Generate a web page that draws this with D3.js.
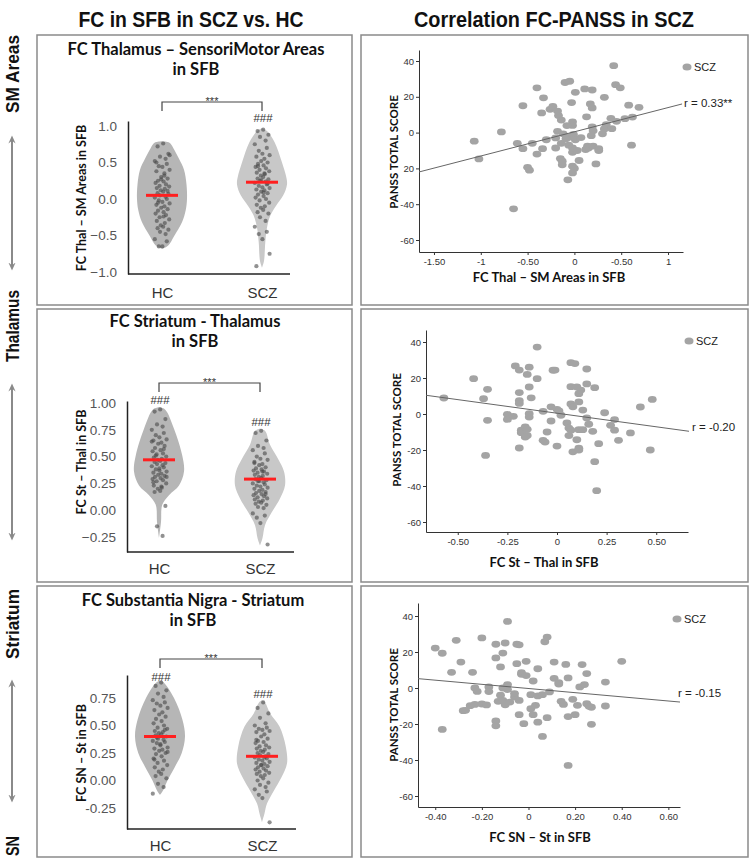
<!DOCTYPE html>
<html>
<head>
<meta charset="utf-8">
<script src="https://cdn.jsdelivr.net/npm/d3@7"></script>
<style>
  body { margin: 0; background: #fff; }
</style>
</head>
<body>
<div id="chart"></div>
<script>
// ---- shared ----
const groups = ["HC", "SCZ"];
const jitter = [0.15, -0.55, 0.8, -0.25, 0.45, -0.9, 0.6, -0.4, 0.05, 0.95, -0.7, 0.3, -0.1, 0.7, -0.5, 0.2, -0.8, 0.5, -0.3, 0.9, -0.65, 0.35, -0.15];
const panssTicks = [40, 20, 0, -20, -40, -60];
const rowLabels = ["SM Areas", "Thalamus", "Striatum", "SN"];

// ---- row 1: Thalamus - SensoriMotor areas ----
const thalSmHC = [0.76, 0.72, 0.62, 0.58, 0.55, 0.52, 0.48, 0.45, 0.44, 0.40, 0.38, 0.35, 0.30, 0.28, 0.25, 0.24, 0.22, 0.20, 0.18, 0.17, 0.15, 0.14, 0.12, 0.10, 0.08, 0.07, 0.05, 0.03, 0.02, 0.0, -0.02, -0.04, -0.06, -0.08, -0.10, -0.12, -0.14, -0.16, -0.18, -0.20, -0.22, -0.25, -0.28, -0.30, -0.33, -0.36, -0.38, -0.40, -0.42, -0.45, -0.48, -0.55, -0.58, -0.65, -0.65, 0.60, 0.50, 0.32, 0.27, 0.11, -0.05, -0.24];
const thalSmSCZ = [0.95, 0.93, 0.88, 0.85, 0.80, 0.75, 0.70, 0.66, 0.62, 0.60, 0.58, 0.55, 0.52, 0.50, 0.48, 0.46, 0.44, 0.42, 0.40, 0.38, 0.36, 0.34, 0.32, 0.30, 0.28, 0.27, 0.25, 0.24, 0.22, 0.20, 0.18, 0.16, 0.15, 0.13, 0.12, 0.10, 0.08, 0.06, 0.04, 0.02, 0.0, -0.02, -0.05, -0.08, -0.10, -0.12, -0.15, -0.18, -0.20, -0.25, -0.30, -0.38, -0.45, -0.48, -0.55, -0.75, -0.92, 0.35, 0.26, 0.21, 0.45, 0.09];
const thalSmHCShape = [[0.79, 0], [0.77, 0.3], [0.7, 0.45], [0.55, 0.68], [0.4, 0.88], [0.2, 0.98], [0.0, 1.0], [-0.15, 0.95], [-0.32, 0.8], [-0.5, 0.5], [-0.64, 0.24], [-0.68, 0]];
const thalSmSCZShape = [[0.97, 0], [0.93, 0.2], [0.78, 0.5], [0.5, 0.8], [0.3, 0.97], [0.2, 1.0], [0.05, 0.85], [-0.1, 0.55], [-0.23, 0.33], [-0.41, 0.19], [-0.6, 0.13], [-0.85, 0.08], [-0.94, 0]];
const thalSmMeans = [0.05, 0.23];
const thalSmTicks = [1, 0.5, 0, -0.5, -1];
const thalSmTickLabels = ["1.0", "0.5", "0.0", "\u22120.5", "\u22121.0"];
const thalSmPanss = [[-1.07, -4.8], [-1.02, -14.7], [-0.78, 0.4], [-0.55, 15], [-0.61, -6], [-0.55, -9], [-0.50, -19.4], [-0.48, -21], [-0.45, -6], [-0.40, 25], [-0.40, -12], [-0.35, 11], [-0.34, -9], [-0.30, -4], [-0.33, 19.4], [-0.26, 13], [-0.23, 14.7], [-0.18, 12], [-0.17, 9.5], [-0.14, 7], [-0.20, -3], [-0.18, 0.7], [-0.20, -8.6], [-0.15, -14.5], [-0.13, -18], [-0.12, -0.7], [-0.14, -6], [-0.13, -16], [-0.10, 28], [-0.05, 28.7], [-0.03, 16.8], [-0.02, 6], [-0.02, 4], [-0.08, 3.9], [-0.06, -2.6], [-0.09, -3.5], [-0.06, -7], [-0.02, -8.6], [-0.02, -11], [-0.01, -9.9], [-0.02, -18.8], [0, -20], [-0.02, -22.5], [-0.07, -26.4], [-0.01, -1], [0.01, 22.5], [0.01, -4], [0.03, -10], [0.05, -15.6], [0.07, -2.8], [0.11, 24.4], [0.13, 8.8], [0.14, -7.6], [0.12, -9.5], [0.15, -8.6], [0.17, 16], [0.19, 13.8], [0.19, 23.8], [0.19, 3.2], [0.20, 1], [0.18, -1.7], [0.20, -7.5], [0.23, -17.5], [0.26, -9], [0.26, -10], [0.30, -0.7], [0.32, 2], [0.34, 4.5], [0.32, 19.7], [0.39, 8], [0.40, 2.2], [0.42, 37.4], [0.44, 26.8], [0.49, 25], [0.45, 6.3], [0.54, 7.8], [0.58, 15.3], [0.61, -7], [0.62, 8.7], [0.69, 14.1], [-0.65, -42.6]];
const thalSmFit = [[-1.66, -22], [1.15, 16]];
const thalSmXTicks = [-1.5, -1, -0.5, 0, 0.5, 1];
const thalSmXTickLabels = ["-1.50", "-1", "-0.50", "0", "-0.50", "1"];
const thalSmYTickLabels = ["40", "20", "0", "20", "-40", "-60"];

// ---- row 2: Striatum - Thalamus ----
const stThalHC = [0.94, 0.92, 0.85, 0.80, 0.78, 0.75, 0.72, 0.70, 0.68, 0.66, 0.65, 0.63, 0.62, 0.60, 0.58, 0.56, 0.55, 0.53, 0.52, 0.50, 0.49, 0.48, 0.47, 0.46, 0.45, 0.44, 0.43, 0.42, 0.41, 0.40, 0.38, 0.37, 0.36, 0.35, 0.34, 0.33, 0.32, 0.31, 0.30, 0.29, 0.28, 0.27, 0.25, 0.23, 0.21, 0.20, 0.18, 0.17, 0.04, -0.15, -0.24, 0.64, 0.57, 0.51, 0.39, 0.31, 0.26, 0.22];
const stThalSCZ = [0.74, 0.72, 0.65, 0.60, 0.58, 0.56, 0.53, 0.50, 0.48, 0.47, 0.45, 0.43, 0.42, 0.40, 0.39, 0.38, 0.37, 0.36, 0.35, 0.34, 0.33, 0.32, 0.31, 0.30, 0.29, 0.28, 0.27, 0.26, 0.25, 0.24, 0.23, 0.22, 0.21, 0.20, 0.19, 0.18, 0.17, 0.16, 0.15, 0.14, 0.13, 0.12, 0.11, 0.10, 0.09, 0.08, 0.07, 0.06, 0.05, 0.03, 0.02, -0.03, -0.05, -0.07, -0.12, -0.32, 0.44, 0.36, 0.27, 0.15];
const stThalHCShape = [[0.96, 0], [0.94, 0.24], [0.76, 0.6], [0.51, 0.93], [0.36, 1.0], [0.23, 0.8], [0.14, 0.4], [0.05, 0.13], [-0.11, 0.08], [-0.26, 0]];
const stThalSCZShape = [[0.76, 0], [0.74, 0.2], [0.61, 0.4], [0.48, 0.72], [0.36, 0.96], [0.23, 1.0], [0.11, 0.8], [-0.02, 0.47], [-0.14, 0.2], [-0.26, 0.1], [-0.33, 0]];
const stThalMeans = [0.47, 0.29];
const stThalTicks = [1, 0.75, 0.5, 0.25, 0, -0.25];
const stThalTickLabels = ["1.00", "0.75", "0.50", "0.25", "0.00", "\u22120.25"];
const stThalPanss = [[-0.57, 8.9], [-0.42, 19.6], [-0.37, 8.5], [-0.35, 13.7], [-0.35, -3.5], [-0.36, -23], [-0.25, -0.2], [-0.25, -3], [-0.22, -1.3], [-0.21, 26.7], [-0.19, 24.4], [-0.19, 11.9], [-0.19, 7.4], [-0.19, 5.9], [-0.19, -18.9], [-0.18, -9], [-0.18, -10.4], [-0.17, -8.9], [-0.16, -7.2], [-0.15, -11.9], [-0.16, -12.8], [-0.15, -8.5], [-0.15, 22], [-0.14, 26], [-0.14, 15], [-0.13, 9], [-0.14, 0.2], [-0.14, -1.7], [-0.10, 19.6], [-0.10, 37.2], [-0.07, 1.5], [-0.05, -10], [-0.07, -14.6], [-0.06, -15.6], [-0.03, 4], [-0.02, 24.3], [-0.01, 24.4], [-0.03, -3.9], [0, 2.6], [0.01, 1.7], [0, -17.8], [0.02, -0.7], [0.05, -5], [0.06, -7.8], [0.06, -12], [0.07, -9], [0.07, 5.6], [0.07, 15.2], [0.07, 28.5], [0.09, 28], [0.08, 4], [0.08, -21], [0.10, -14.3], [0.10, 15], [0.11, -19], [0.11, -20], [0.11, 11.3], [0.11, 6.7], [0.12, 13.3], [0.11, -8.7], [0.13, -8.7], [0.13, 2.2], [0.15, 25], [0.15, -2.2], [0.15, 16.7], [0.16, -5.7], [0.18, -9.6], [0.19, 14.6], [0.19, -26.5], [0.20, -42.6], [0.21, -16.5], [0.24, 0.7], [0.27, -6.3], [0.29, -9], [0.29, -3.1], [0.31, -14.6], [0.37, -10.5], [0.42, 3.9], [0.47, -20], [0.48, 8.1]];
const stThalFit = [[-0.66, 10.4], [0.665, -9.6]];
const stThalXTicks = [-0.5, -0.25, 0, 0.25, 0.5];
const stThalXTickLabels = ["-0.50", "-0.25", "0", "0.25", "0.50"];
const stThalYTickLabels = ["40", "20", "0", "-20", "-40", "-60"];

// ---- row 3: Substantia Nigra - Striatum ----
const snStHC = [0.89, 0.86, 0.82, 0.79, 0.76, 0.73, 0.71, 0.70, 0.68, 0.66, 0.64, 0.62, 0.60, 0.58, 0.56, 0.54, 0.52, 0.50, 0.48, 0.47, 0.45, 0.44, 0.43, 0.42, 0.41, 0.40, 0.38, 0.37, 0.36, 0.35, 0.34, 0.32, 0.30, 0.29, 0.28, 0.27, 0.25, 0.24, 0.22, 0.20, 0.18, 0.16, 0.14, 0.12, 0.10, 0.08, 0.06, 0.04, 0.02, -0.03, -0.06, -0.12, 0.46, 0.39, 0.33, 0.26, 0.19];
const snStSCZ = [0.71, 0.66, 0.61, 0.57, 0.52, 0.50, 0.48, 0.47, 0.46, 0.45, 0.44, 0.42, 0.40, 0.38, 0.36, 0.35, 0.34, 0.32, 0.31, 0.30, 0.29, 0.28, 0.27, 0.26, 0.25, 0.24, 0.23, 0.22, 0.21, 0.20, 0.19, 0.18, 0.17, 0.16, 0.15, 0.14, 0.13, 0.12, 0.11, 0.10, 0.09, 0.08, 0.07, 0.06, 0.05, 0.04, 0.02, 0.0, -0.02, -0.04, -0.06, -0.08, -0.10, -0.13, -0.16, -0.38, 0.37, 0.21, 0.14];
const snStHCShape = [[0.91, 0], [0.89, 0.15], [0.75, 0.56], [0.55, 0.9], [0.40, 1.0], [0.25, 0.87], [0.125, 0.6], [0.0, 0.3], [-0.09, 0.12], [-0.13, 0]];
const snStSCZShape = [[0.73, 0], [0.71, 0.12], [0.61, 0.33], [0.49, 0.7], [0.31, 0.95], [0.155, 1.0], [0.03, 0.78], [-0.09, 0.48], [-0.21, 0.2], [-0.3, 0.1], [-0.38, 0]];
const snStMeans = [0.40, 0.22];
const snStTicks = [0.75, 0.5, 0.25, 0, -0.25];
const snStTickLabels = ["0.75", "0.50", "0.25", "0.00", "-0.25"];
const snStPanss = [[-0.40, 22.2], [-0.37, 19.3], [-0.37, -23], [-0.33, 8.7], [-0.31, 26.5], [-0.29, 14.4], [-0.28, -12.6], [-0.27, -12.4], [-0.25, -9.8], [-0.24, 8.7], [-0.23, 0], [-0.22, -1.9], [-0.23, -9.1], [-0.20, 27.8], [-0.20, -8.9], [-0.18, -9.4], [-0.17, 0.6], [-0.17, -2], [-0.14, 16.7], [-0.14, 24.3], [-0.14, -21], [-0.14, -18.3], [-0.13, -7.4], [-0.12, 11.7], [-0.11, 19.4], [-0.12, -4], [-0.11, -6.9], [-0.11, 0], [-0.10, -9.3], [-0.09, 37], [-0.10, 25], [-0.09, 1.9], [-0.09, -0.9], [-0.08, -7.8], [-0.06, -5], [-0.06, -3.1], [-0.05, 13.5], [-0.05, 24.3], [-0.04, -6.9], [-0.04, -14.8], [-0.04, 24], [-0.03, 7.6], [-0.03, 8.5], [-0.02, -19.8], [-0.01, 6.9], [-0.01, 14.8], [0.01, -3.7], [0.01, -11.5], [0.02, 3.9], [0.02, -14.8], [0.03, -9.6], [0.04, 10.7], [0.04, -19], [0.04, -4.4], [0.06, -3.7], [0.06, -26.9], [0.07, 25.7], [0.08, -16.5], [0.08, 28.3], [0.09, -2.2], [0.11, 5.4], [0.11, 14.4], [0.13, 3], [0.13, 2.2], [0.14, -7.4], [0.15, -9.1], [0.16, 13.1], [0.17, 5.6], [0.17, -15.9], [0.17, -43], [0.19, -6.3], [0.20, -14.8], [0.21, -9.6], [0.22, 0.6], [0.23, 13], [0.24, 1.9], [0.25, 8], [0.25, -8.7], [0.26, -10.2], [0.27, -20.2], [0.27, -10.7], [0.33, 3.3], [0.33, -10], [0.40, 14.8]];
const snStFit = [[-0.474, 5.2], [0.65, -7.8]];
const snStXTicks = [-0.4, -0.2, 0, 0.2, 0.4, 0.6];
const snStXTickLabels = ["-0.40", "-0.20", "0", "0.20", "0.40", "0.60"];
const snStYTickLabels = ["40", "20", "0", "-20", "-40", "-60"];

// ---- styles ----
const sans = "'Liberation Sans', Arial, sans-serif";
const bold = "Lato, 'Noto Sans', sans-serif";
const narrow = "'Liberation Sans Narrow', 'Liberation Sans', sans-serif";
const violinFill = ["#b6b6b6", "#c8c8c8"];

const svg = d3.select("#chart").append("svg")
    .attr("width", 751)
    .attr("height", 860)
    .style("font-family", sans);

// column headers
svg.append("text").attr("x", 191).attr("y", 27).attr("text-anchor", "middle")
    .attr("textLength", 225).attr("lengthAdjust", "spacingAndGlyphs")
    .style("font", `bold 22px ${narrow}`).attr("fill", "#111")
    .text("FC in SFB in SCZ vs. HC");
svg.append("text").attr("x", 554).attr("y", 27).attr("text-anchor", "middle")
    .attr("textLength", 280).attr("lengthAdjust", "spacingAndGlyphs")
    .style("font", `bold 22px ${narrow}`).attr("fill", "#111")
    .text("Correlation FC-PANSS in SCZ");

// panel boxes
[[37, 35, 352, 305], [361, 35, 748, 305], [37, 309, 352, 582], [361, 309, 748, 582], [37, 586, 352, 857], [361, 586, 748, 857]]
    .forEach(b => {
        svg.append("rect").attr("x", b[0]).attr("y", b[1])
            .attr("width", b[2] - b[0]).attr("height", b[3] - b[1])
            .attr("fill", "none").attr("stroke", "#8a8a8a").attr("stroke-width", 1.5);
    });

// row labels and arrows on the far left
const rowLabelPos = [[74, 78], [326, 72], [624, 70], [846, 20]];
rowLabels.forEach((t, i) => {
    svg.append("text")
        .attr("transform", `translate(19,${rowLabelPos[i][0]}) rotate(-90)`)
        .attr("text-anchor", "middle")
        .attr("textLength", rowLabelPos[i][1]).attr("lengthAdjust", "spacingAndGlyphs")
        .style("font", `bold 19px ${narrow}`).attr("fill", "#111")
        .text(t);
});
const defs = svg.append("defs");
defs.append("marker").attr("id", "ah").attr("viewBox", "0 0 10 10")
    .attr("refX", 5).attr("refY", 5).attr("markerWidth", 4.5).attr("markerHeight", 4.5)
    .attr("orient", "auto-start-reverse")
    .append("path").attr("d", "M0,1 L9,5 L0,9 L3,5 Z").attr("fill", "#8a8a8a");
[[136, 270], [384, 540], [680, 802]].forEach(a => {
    svg.append("line").attr("x1", 12).attr("x2", 12).attr("y1", a[0] + 3).attr("y2", a[1] - 3)
        .attr("stroke", "#8a8a8a").attr("stroke-width", 2)
        .attr("marker-start", "url(#ah)").attr("marker-end", "url(#ah)");
});

function violinPanel(p) {
    const g = svg.append("g");
    const y = d3.scaleLinear().domain([p.yRef[0], p.yRef[2]]).range([p.yRef[1], p.yRef[3]]);
    y.domain([y.invert(p.axisBottom), y.invert(p.axisTop)]).range([p.axisBottom, p.axisTop]);
    const x = d3.scalePoint().domain(groups).range([p.hcX, p.sczX]);
    const halfW = 25;

    // title
    p.title.forEach((t, i) => {
        g.append("text").attr("x", p.titleX).attr("y", p.titleY + i * 20)
            .attr("text-anchor", "middle").style("font", `bold 16.5px ${bold}`).attr("fill", "#111")
            .text(t);
    });

    groups.forEach((grp, gi) => {
        const cx = x(grp);
        const area = d3.area().curve(d3.curveCatmullRom)
            .y(d => y(d[0]))
            .x0(d => cx - d[1] * halfW)
            .x1(d => cx + d[1] * halfW);
        g.append("path").datum(p.shapes[gi]).attr("d", area).attr("fill", violinFill[gi]);
        g.append("g").selectAll("circle").data(p.values[gi]).join("circle")
            .attr("cx", (d, i) => cx + jitter[i % jitter.length] * 8)
            .attr("cy", d => y(d))
            .attr("r", 2.1)
            .attr("fill", "#474747")
            .attr("opacity", 0.6);
        g.append("line")
            .attr("x1", cx - 16).attr("x2", cx + 16)
            .attr("y1", y(p.means[gi])).attr("y2", y(p.means[gi]))
            .attr("stroke", "#ff1f1f").attr("stroke-width", 3);
    });

    // y axis
    const ax = g.append("g").attr("transform", `translate(${p.axisLeft},0)`)
        .call(d3.axisLeft(y).tickValues(p.ticks).tickFormat((d, i) => p.tickLabels[i])
            .tickSize(0).tickSizeOuter(0).tickPadding(11));
    ax.attr("font-family", sans);
    ax.select(".domain").attr("stroke", "#222").attr("stroke-width", 1.5);
    ax.selectAll(".tick text").attr("fill", "#555").style("font-size", "13.5px");

    // x axis
    g.append("line").attr("x1", p.axisLeft).attr("x2", p.axisRight)
        .attr("y1", p.axisBottom).attr("y2", p.axisBottom)
        .attr("stroke", "#222").attr("stroke-width", 1.5);
    const bx = g.append("g").attr("transform", `translate(0,${p.axisBottom})`)
        .call(d3.axisBottom(x).tickSize(0).tickPadding(p.catPad));
    bx.attr("font-family", sans);
    bx.select(".domain").remove();
    bx.selectAll(".tick text").attr("fill", "#333").style("font-size", "15px");

    // y label
    g.append("text")
        .attr("transform", `translate(86,${p.yLabelCY}) rotate(-90)`)
        .attr("text-anchor", "middle").style("font", `bold 12.5px ${bold}`).attr("fill", "#111")
        .text(p.yLabel);

    // significance bracket
    g.append("path")
        .attr("d", `M${p.hcX},${p.bracketY + 9}V${p.bracketY}H${p.sczX}V${p.bracketY + 9}`)
        .attr("fill", "none").attr("stroke", "#444").attr("stroke-width", 1.2);
    g.append("text").attr("x", (p.hcX + p.sczX) / 2).attr("y", p.bracketY + 3)
        .attr("text-anchor", "middle").style("font-size", "11px").attr("fill", "#333")
        .text("***");
    p.hashes.forEach(h => {
        g.append("text").attr("x", x(h[0]) + 1).attr("y", h[1] + 4)
            .attr("text-anchor", "middle").style("font-size", "11.5px").attr("fill", "#333")
            .text("###");
    });
}

function scatterPanel(p) {
    const g = svg.append("g");
    const y = d3.scaleLinear().domain([40, -60]).range([p.y40, p.yM60]);
    y.domain([y.invert(p.axisY), y.invert(p.axisTop)]).range([p.axisY, p.axisTop]);
    const x = d3.scaleLinear().domain(p.xDomain).range([p.axisX, p.axisRight]);

    const ax = g.append("g").attr("transform", `translate(${p.axisX},0)`)
        .call(d3.axisLeft(y).tickValues(panssTicks).tickFormat((d, i) => p.yTickLabels[i])
            .tickSize(3).tickSizeOuter(0).tickPadding(2));
    ax.attr("font-family", sans);
    ax.selectAll("path, line").attr("stroke", "#333");
    ax.selectAll(".tick text").attr("fill", "#333").style("font-size", "9.5px");

    const bx = g.append("g").attr("transform", `translate(0,${p.axisY})`)
        .call(d3.axisBottom(x).tickValues(p.xTicks).tickFormat((d, i) => p.xTickLabels[i])
            .tickSize(3).tickSizeOuter(0).tickPadding(3));
    bx.attr("font-family", sans);
    bx.selectAll("path, line").attr("stroke", "#333");
    bx.selectAll(".tick text").attr("fill", "#333").style("font-size", "9.5px");

    g.append("g").selectAll("ellipse").data(p.points).join("ellipse")
        .attr("cx", d => x(d[0]))
        .attr("cy", d => y(d[1]))
        .attr("rx", 4.4).attr("ry", 3.4)
        .attr("fill", "#a4a4a4");

    g.append("line")
        .attr("x1", x(p.fit[0][0])).attr("y1", y(p.fit[0][1]))
        .attr("x2", x(p.fit[1][0])).attr("y2", y(p.fit[1][1]))
        .attr("stroke", "#666").attr("stroke-width", 1);

    g.append("text").attr("x", p.rPos[0]).attr("y", p.rPos[1])
        .style("font-size", "11.5px").attr("fill", "#222").text(p.rLabel);

    g.append("ellipse").attr("cx", p.legendPos[0]).attr("cy", p.legendPos[1])
        .attr("rx", 4.5).attr("ry", 3.6).attr("fill", "#a4a4a4");
    g.append("text").attr("x", p.legendPos[0] + 7).attr("y", p.legendPos[1] + 4)
        .style("font-size", "11px").attr("fill", "#222").text("SCZ");

    g.append("text")
        .attr("transform", `translate(${p.yLabelX},${p.yLabelCY}) rotate(-90)`)
        .attr("text-anchor", "middle").style("font", `bold 11.5px ${bold}`).attr("fill", "#111")
        .text("PANSS TOTAL SCORE");
    g.append("text").attr("x", p.xLabelPos[0]).attr("y", p.xLabelPos[1])
        .attr("text-anchor", "middle").style("font", `bold 13px ${bold}`).attr("fill", "#111")
        .text(p.xLabel);
}

violinPanel({
    title: ["FC Thalamus \u2013 SensoriMotor Areas", "in SFB"], titleX: 196, titleY: 55,
    yRef: [1, 126, -1, 272], axisTop: 121, axisBottom: 274, axisLeft: 128, axisRight: 290,
    hcX: 162, sczX: 262, catPad: 13,
    values: [thalSmHC, thalSmSCZ], shapes: [thalSmHCShape, thalSmSCZShape], means: thalSmMeans,
    ticks: thalSmTicks, tickLabels: thalSmTickLabels,
    yLabel: "FC Thal \u2013 SM Areas in SFB", yLabelCY: 198,
    bracketY: 102, hashes: [["SCZ", 118]]
});
violinPanel({
    title: ["FC Striatum - Thalamus", "in SFB"], titleX: 195, titleY: 327,
    yRef: [1, 403, -0.25, 537], axisTop: 401, axisBottom: 552, axisLeft: 127, axisRight: 294,
    hcX: 159, sczX: 260, catPad: 11,
    values: [stThalHC, stThalSCZ], shapes: [stThalHCShape, stThalSCZShape], means: stThalMeans,
    ticks: stThalTicks, tickLabels: stThalTickLabels,
    yLabel: "FC St \u2013 Thal in SFB", yLabelCY: 462,
    bracketY: 383, hashes: [["HC", 400], ["SCZ", 422]]
});
violinPanel({
    title: ["FC Substantia Nigra - Striatum", "in SFB"], titleX: 193, titleY: 606,
    yRef: [0.75, 698, -0.25, 808], axisTop: 675, axisBottom: 829, axisLeft: 127, axisRight: 296,
    hcX: 160, sczX: 262, catPad: 11,
    values: [snStHC, snStSCZ], shapes: [snStHCShape, snStSCZShape], means: snStMeans,
    ticks: snStTicks, tickLabels: snStTickLabels,
    yLabel: "FC SN \u2013 St in SFB", yLabelCY: 753,
    bracketY: 659, hashes: [["HC", 677], ["SCZ", 694]]
});

scatterPanel({
    y40: 61, yM60: 240, axisTop: 50, axisY: 252, axisX: 419, axisRight: 683,
    xDomain: [-1.66, 1.16], points: thalSmPanss, fit: thalSmFit,
    xTicks: thalSmXTicks, xTickLabels: thalSmXTickLabels, yTickLabels: thalSmYTickLabels,
    rLabel: "r = 0.33**", rPos: [684, 107], legendPos: [687, 67],
    yLabelX: 398, yLabelCY: 152, xLabel: "FC Thal \u2013 SM Areas in SFB", xLabelPos: [549, 282]
});
scatterPanel({
    y40: 342, yM60: 522, axisTop: 330, axisY: 532, axisX: 426, axisRight: 688,
    xDomain: [-0.66, 0.66], points: stThalPanss, fit: stThalFit,
    xTicks: stThalXTicks, xTickLabels: stThalXTickLabels, yTickLabels: stThalYTickLabels,
    rLabel: "r = -0.20", rPos: [692, 431], legendPos: [689, 341],
    yLabelX: 401, yLabelCY: 430, xLabel: "FC St \u2013 Thal in SFB", xLabelPos: [544, 567]
});
scatterPanel({
    y40: 616, yM60: 796, axisTop: 603, axisY: 807, axisX: 418, axisRight: 680,
    xDomain: [-0.474, 0.65], points: snStPanss, fit: snStFit,
    xTicks: snStXTicks, xTickLabels: snStXTickLabels, yTickLabels: snStYTickLabels,
    rLabel: "r = -0.15", rPos: [678, 697], legendPos: [677, 619],
    yLabelX: 398, yLabelCY: 705, xLabel: "FC SN \u2013 St in SFB", xLabelPos: [540, 842]
});
</script>
</body>
</html>
